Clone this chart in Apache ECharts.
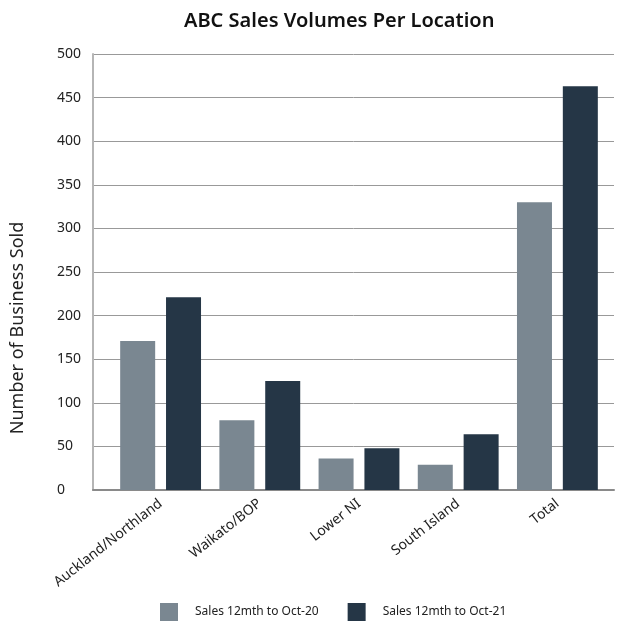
<!DOCTYPE html>
<html>
<head>
<meta charset="utf-8">
<script src="https://cdn.jsdelivr.net/npm/echarts@6/dist/echarts.min.js"></script>
<style>html,body{margin:0;padding:0;background:#fff}#c{width:640px;height:640px}</style>
</head>
<body>
<div id="c"></div>
<script>
var categories = ['Auckland/Northland', 'Waikato/BOP', 'Lower NI', 'South Island', 'Total'];
var sales2020 = [171, 80, 36, 29, 330];
var sales2021 = [221, 125, 48, 64, 463];
var seriesNames = ['Sales 12mth to Oct-20', 'Sales 12mth to Oct-21'];
var yMin = 0, yMax = 500, yStep = 50;

var FONT = 'Noto Sans';
var chart = echarts.init(document.getElementById('c'), null, {renderer: 'canvas'});
chart.setOption({
  animation: false,
  backgroundColor: '#fff',
  title: {
    text: 'ABC Sales Volumes Per Location',
    left: 179, top: 6,
    textStyle: {fontFamily: FONT, fontSize: 20, fontWeight: 600, color: '#111'}
  },
  legend: {
    data: seriesNames,
    left: 160, top: 603, padding: 0,
    itemWidth: 18, itemHeight: 18, itemGap: 29,
    icon: 'rect',
    textStyle: {fontFamily: FONT, fontSize: 12, color: '#222', padding: [0, 0, 0, 12]}
  },
  graphic: [{
    type: 'text',
    x: 18, y: 328,
    rotation: Math.PI / 2,
    style: {text: 'Number of Business Sold', fontFamily: FONT, fontSize: 18, fill: '#222',
      align: 'center', verticalAlign: 'middle'}
  }],
  grid: [
    {left: 93, right: 26, top: 54, bottom: 150},
    {left: 111, right: 33, top: 54, bottom: 150}
  ],
  xAxis: [
    {type: 'category', gridIndex: 0, data: categories,
      axisLine: {show: true, lineStyle: {color: '#8a8a8a', width: 2}},
      axisTick: {show: false}, axisLabel: {show: false}, splitLine: {show: false}},
    {type: 'category', gridIndex: 1, data: categories,
      axisLine: {show: false}, axisTick: {show: false},
      axisLabel: {rotate: 38, margin: 12, fontFamily: FONT, fontSize: 14, color: '#222', interval: 0}}
  ],
  yAxis: [
    {type: 'value', gridIndex: 0, min: yMin, max: yMax, interval: yStep,
      axisLine: {show: true, lineStyle: {color: '#b5b5b5', width: 2}},
      axisTick: {show: false},
      axisLabel: {align: 'left', margin: 36, fontFamily: FONT, fontSize: 14, color: '#222'},
      splitLine: {show: true, lineStyle: {color: '#999', width: 1}}},
    {type: 'value', gridIndex: 1, min: yMin, max: yMax, interval: yStep,
      axisLine: {show: false}, axisTick: {show: false}, axisLabel: {show: false},
      splitLine: {show: false}}
  ],
  series: [
    {name: seriesNames[0], type: 'bar', xAxisIndex: 1, yAxisIndex: 1, data: sales2020,
      barWidth: 35, barGap: '31%', itemStyle: {color: '#7a8791'}},
    {name: seriesNames[1], type: 'bar', xAxisIndex: 1, yAxisIndex: 1, data: sales2021,
      barWidth: 35, barGap: '31%', itemStyle: {color: '#253646'}}
  ]
});
</script>
</body>
</html>
